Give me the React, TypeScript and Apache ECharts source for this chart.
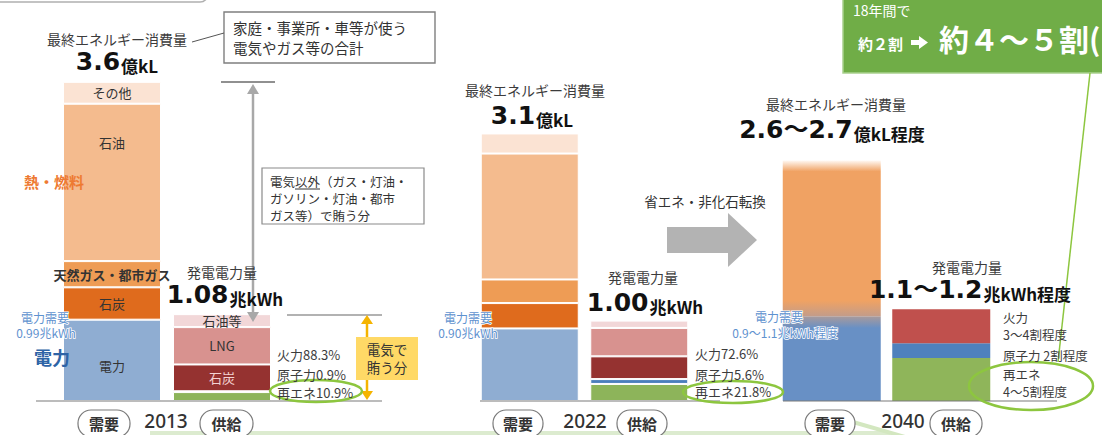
import React, { useEffect, useRef } from 'react';
import * as echarts from 'echarts';

const FONT = "'Noto Sans CJK JP', 'Noto Sans', sans-serif";
const NUM_FONT = "'DejaVu Sans', 'Noto Sans CJK JP', sans-serif";
const YEAR_FONT = "'Noto Sans', 'Open Sans', sans-serif";

// ---- data ----
const years = ['2013', '2022', '2040'];
const sides = ['需要', '供給'];

// demand (億kL equivalent), bottom -> top
const demandNames = ['電力', '石炭', '天然ガス・都市ガス', '石油', 'その他'];
const demand2013 = [0.93, 0.37, 0.3, 1.8, 0.25];
const demand2022 = [0.83, 0.29, 0.27, 1.44, 0.23];
const demandNames2040 = ['電力', '熱・燃料'];
const demand2040 = [0.97, 1.78];

// supply (兆kWh), bottom -> top
const supplyNames = ['再エネ', '原子力', '石炭', 'LNG', '石油等'];
const supply2013 = [0.11, 0.01, 0.33, 0.46, 0.16];
const supply2022 = [0.21, 0.06, 0.28, 0.35, 0.09];
const supplyNames2040 = ['再エネ', '原子力', '火力'];
const supply2040 = [0.53, 0.18, 0.42];

const totalsDemand = ['3.6', '3.1', '2.6〜2.7'];
const totalsDemandUnit = ['億kL', '億kL', '億kL程度'];
const totalsSupply = ['1.08', '1.00', '1.1〜1.2'];
const totalsSupplyUnit = ['兆kWh', '兆kWh', '兆kWh程度'];
const powerDemand = ['0.99兆kWh', '0.90兆kWh', '0.9〜1.1兆kWh程度'];
const mix2013 = ['火力88.3%', '原子力0.9%', '再エネ10.9%'];
const mix2022 = ['火力72.6%', '原子力5.6%', '再エネ21.8%'];
const mix2040 = ['火力', '3〜4割程度', '原子力 2割程度', '再エネ', '4〜5割程度'];

// ---- styles ----
const demandColors = ['#8FADD2', '#DF6B1D', '#EE9C55', '#F4BB8E', '#FBE3D3'];
const supplyColors = ['#8DB45A', '#4A7EBB', '#953230', '#D8928F', '#F2D7D8'];
const supplyColors2040 = ['#8FB55A', '#4F81BD', '#C0504D'];

function txt(text: string, x: number, y: number, o: any = {}) {
  return {
    type: 'text', z: 50, x, y,
    style: {
      text, fill: o.color ?? '#3c3c3c', fontSize: o.size ?? 13, fontFamily: o.family ?? FONT,
      fontWeight: o.weight ?? 'normal', align: o.align ?? 'center', verticalAlign: 'middle',
      stroke: o.stroke, lineWidth: o.strokeWidth ?? 0,
    },
  };
}
function big(num: string, unit: string, x: number, yBottom: number) {
  return {
    type: 'text', z: 50, x, y: yBottom,
    style: {
      text: `{n|${num}}{u|${unit}}`, align: 'center', verticalAlign: 'bottom',
      rich: {
        n: { fontFamily: NUM_FONT, fontWeight: 'bold', fontSize: 25, fill: '#111', color: '#111', verticalAlign: 'bottom', lineHeight: 24 },
        u: { fontFamily: FONT, fontWeight: 'bold', fontSize: 17, fill: '#111', color: '#111', verticalAlign: 'bottom', lineHeight: 24, padding: [0, 0, 0, 1] },
      },
    },
  };
}
function line(x1: number, y1: number, x2: number, y2: number, stroke = '#777', lineWidth = 1.2, z = 40) {
  return { type: 'line', z, shape: { x1, y1, x2, y2 }, style: { stroke, lineWidth } };
}
function poly(points: number[][], fill: string, z = 40) {
  return { type: 'polygon', z, shape: { points }, style: { fill } };
}
function box(x: number, y: number, w: number, h: number, fill: string, stroke?: string, r = 0, lw = 1.2, z = 30) {
  return { type: 'rect', z, shape: { x, y, width: w, height: h, r }, style: { fill, stroke, lineWidth: stroke ? lw : 0 } };
}
function ellipse(cx: number, cy: number, rx: number, ry: number) {
  return { type: 'ellipse', z: 45, shape: { cx, cy, rx, ry }, style: { fill: 'none', stroke: '#8DC63F', lineWidth: 2.5 } };
}
function pill(text: string, x: number, w: number) {
  return [box(x, 410, w, 27, '#fff', '#7a7a7a', 13, 1.2, 30), txt(text, x + w / 2, 423, { size: 15, weight: 'bold', color: '#333' })];
}
const blueText = { size: 12, color: '#5F92CF', stroke: '#fff', strokeWidth: 1.5 };

function buildSeries() {
  const series: any[] = [];
  const mk = (name: string, gi: number, supply: boolean, value: number, color: any, label: any, border = true) => ({
    type: 'bar', name, xAxisIndex: gi, yAxisIndex: gi * 2 + (supply ? 1 : 0), stack: (supply ? 's' : 'd') + gi,
    barWidth: 98, barGap: '-100%', z: 2,
    data: supply ? ['-', value] : [value, '-'],
    itemStyle: { color, borderColor: '#fff', borderWidth: border ? 1 : 0 },
    label: label
      ? { show: true, position: 'inside', formatter: label.text ?? name, color: label.color ?? '#333', fontSize: 13, fontFamily: FONT, offset: label.offset ?? [0, 0], fontWeight: label.weight ?? 'normal' }
      : { show: false },
  });
  const demandLabels2013: any[] = [{ offset: [0, 5] }, {}, { weight: 'bold' }, { offset: [0, -40] }, {}];
  demandNames.forEach((n, i) => series.push(mk(n, 0, false, demand2013[i], demandColors[i], demandLabels2013[i])));
  const supplyLabels2013: any[] = [null, null, { color: '#F4D2D2' }, {}, {}];
  supplyNames.forEach((n, i) => series.push(mk(n, 0, true, supply2013[i], supplyColors[i], supplyLabels2013[i])));
  demandNames.forEach((n, i) => series.push(mk(n, 1, false, demand2022[i], demandColors[i], null)));
  supplyNames.forEach((n, i) => series.push(mk(n, 1, true, supply2022[i], supplyColors[i], null)));
  const blueGrad = new echarts.graphic.LinearGradient(0, 0, 0, 1, [
    { offset: 0, color: '#A99A9B' }, { offset: 0.14, color: '#6890C5' }, { offset: 1, color: '#6890C5' },
  ]);
  const orangeGrad = new echarts.graphic.LinearGradient(0, 0, 0, 1, [
    { offset: 0, color: '#FFF8F2' }, { offset: 0.07, color: '#F0A263' }, { offset: 0.9, color: '#F0A263' }, { offset: 1, color: '#C39C8A' },
  ]);
  series.push(mk(demandNames2040[0], 2, false, demand2040[0], blueGrad, null, false));
  series.push(mk(demandNames2040[1], 2, false, demand2040[1], orangeGrad, null, false));
  supplyNames2040.forEach((n, i) => series.push(mk(n, 2, true, supply2040[i], supplyColors2040[i], null, false)));
  return series;
}

function buildGraphics() {
  const g: any[] = [];
  // top-left frame edge
  g.push({ type: 'rect', z: 30, shape: { x: -20, y: -40, width: 228, height: 42, r: 8 }, style: { fill: 'none', stroke: '#B0B0B0', lineWidth: 1.5 } });
  // bottom light green band + pointer
  g.push(box(150, 431, 740, 10, '#DCEBCF', undefined, 0, 0, 5));
  g.push(line(846, 420, 905, 437, '#D3E7C0', 4, 5));
  // ---- 2013 ----
  g.push(txt('最終エネルギー消費量', 117, 39, { size: 14 }));
  g.push(line(192, 42, 224, 33, '#555', 1));
  g.push(box(224, 12, 211, 51, '#fff', '#7f7f7f', 0, 1.4));
  g.push(txt('家庭・事業所・車等が使う', 233, 27, { size: 14.5, align: 'left', color: '#333' }));
  g.push(txt('電気やガス等の合計', 233, 47, { size: 14.5, align: 'left', color: '#333' }));
  g.push(big(totalsDemand[0], totalsDemandUnit[0], 117, 74));
  g.push(line(221, 82, 275, 82, '#222', 1.2));
  g.push(line(253, 92, 253, 314, '#A8A8A8', 2.5, 35));
  g.push(poly([[247, 94], [259, 94], [253, 84]], '#A8A8A8', 35));
  g.push(poly([[247, 312], [259, 312], [253, 322]], '#A8A8A8', 35));
  g.push(box(262, 168, 162, 56, '#fff', '#8a8a8a', 0, 1.2));
  g.push(txt('電気以外（ガス・灯油・', 270, 181, { size: 12.5, align: 'left', color: '#333' }));
  g.push(txt('ガソリン・灯油・都市', 270, 198, { size: 12.5, align: 'left', color: '#333' }));
  g.push(txt('ガス等）で賄う分', 270, 215, { size: 12.5, align: 'left', color: '#333' }));
  g.push(line(295, 189, 320, 189, '#333', 1));
  g.push(txt('熱・燃料', 54, 181, { size: 15, weight: 'bold', color: '#EE7A32' }));
  g.push(txt('電力需要', 45, 317, blueText));
  g.push(txt(powerDemand[0], 46, 332, blueText));
  g.push(txt('電力', 52, 357, { size: 18, weight: 'bold', color: '#2E64A6' }));
  g.push(txt('発電電力量', 222, 272, { size: 14 }));
  g.push(big(totalsSupply[0], totalsSupplyUnit[0], 225, 307));
  g.push(txt(mix2013[0], 277, 354, { size: 13, align: 'left' }));
  g.push(txt(mix2013[1], 277, 374, { size: 13, align: 'left' }));
  g.push(txt(mix2013[2], 277, 392, { size: 13, align: 'left' }));
  g.push(ellipse(316, 391, 46, 11));
  g.push(line(287, 315, 382, 315, '#666', 1.2));
  g.push(line(36, 401, 382, 401, '#7a7a7a', 1.2, 20));
  g.push(line(367, 322, 367, 392, '#F5B400', 2.5));
  g.push(poly([[361, 324], [373, 324], [367, 315]], '#F5B400'));
  g.push(poly([[361, 391], [373, 391], [367, 400]], '#F5B400'));
  g.push(box(356, 337, 62, 43, '#FFD966', undefined, 0, 0, 42));
  g.push(txt('電気で', 387, 349, { size: 13.5, color: '#333' }));
  g.push(txt('賄う分', 387, 367, { size: 13.5, color: '#333' }));
  g.push(...pill(sides[0], 78, 52));
  g.push(txt(years[0], 166, 421, { size: 19, weight: 500, color: '#333', family: YEAR_FONT }));
  g.push(...pill(sides[1], 200, 53));
  // ---- 2022 ----
  g.push(txt('最終エネルギー消費量', 535, 90, { size: 14 }));
  g.push(big(totalsDemand[1], totalsDemandUnit[1], 532, 128));
  g.push(txt('省エネ・非化石転換', 705, 201, { size: 13.5, color: '#333' }));
  g.push(poly([[667, 227], [728, 227], [728, 213], [757, 240], [728, 267], [728, 253], [667, 253]], '#B3B3B3'));
  g.push(txt('電力需要', 468, 317, blueText));
  g.push(txt(powerDemand[1], 468, 332, blueText));
  g.push(txt('発電電力量', 643, 277, { size: 14 }));
  g.push(big(totalsSupply[1], totalsSupplyUnit[1], 645, 315));
  g.push(txt(mix2022[0], 695, 353, { size: 13, align: 'left' }));
  g.push(txt(mix2022[1], 695, 374, { size: 13, align: 'left' }));
  g.push(txt(mix2022[2], 695, 391, { size: 13, align: 'left' }));
  g.push(ellipse(733, 392, 50, 11));
  g.push(line(480, 401, 720, 401, '#7a7a7a', 1.2, 20));
  g.push(...pill(sides[0], 493, 50));
  g.push(txt(years[1], 585, 421, { size: 19, weight: 500, color: '#333', family: YEAR_FONT }));
  g.push(...pill(sides[1], 617, 50));
  // ---- 2040 ----
  g.push(txt('最終エネルギー消費量', 836, 104, { size: 14 }));
  g.push(big(totalsDemand[2], totalsDemandUnit[2], 832, 142));
  g.push(txt('電力需要', 779, 316, blueText));
  g.push(txt(powerDemand[2], 785, 332, blueText));
  g.push(txt('発電電力量', 967, 267, { size: 14 }));
  g.push(big(totalsSupply[2], totalsSupplyUnit[2], 970, 302));
  g.push(txt(mix2040[0], 1003, 317, { size: 12.5, align: 'left' }));
  g.push(txt(mix2040[1], 1003, 334, { size: 12.5, align: 'left' }));
  g.push(txt(mix2040[2], 1003, 355, { size: 12.5, align: 'left' }));
  g.push(txt(mix2040[3], 1003, 374, { size: 12.5, align: 'left' }));
  g.push(txt(mix2040[4], 1003, 391, { size: 12.5, align: 'left' }));
  g.push(line(783, 401, 1057, 401, '#7a7a7a', 1.2, 20));
  g.push(ellipse(1031, 386, 62, 24));
  g.push(line(1090, 73, 1058, 362, '#8DC63F', 1.5));
  g.push(...pill(sides[0], 805, 50));
  g.push(txt(years[2], 903, 421, { size: 19, weight: 500, color: '#333', family: YEAR_FONT }));
  g.push(...pill(sides[1], 930, 52));
  // top-right green callout
  g.push(box(843, -5, 270, 78, '#70AD47', '#A9D18E', 0, 1.5, 30));
  g.push(txt('18年間で', 853, 10, { size: 14, align: 'left', color: '#fff' }));
  g.push(txt('約２割', 858, 43, { size: 15, weight: 'bold', align: 'left', color: '#fff' }));
  g.push(poly([[911, 40], [919, 40], [919, 36], [928, 42.5], [919, 49], [919, 45], [911, 45]], '#fff', 50));
  g.push(txt('約４〜５割(', 939, 38, { size: 30, weight: 'bold', align: 'left', color: '#fff' }));
  return g;
}

export default function App() {
  const ref = useRef<HTMLDivElement>(null);
  useEffect(() => {
    const chart = echarts.init(ref.current!, null, { renderer: 'svg' });
    const grids = [
      { left: 57, width: 220 },
      { left: 475, width: 219 },
      { left: 777, width: 219 },
    ].map((g) => ({ ...g, top: 60, height: 341 }));
    chart.setOption({
      animation: false,
      backgroundColor: '#fff',
      grid: grids,
      xAxis: grids.map((_, i) => ({ type: 'category', gridIndex: i, data: sides, show: false })),
      yAxis: grids.flatMap((_, i) => [
        { type: 'value', gridIndex: i, min: 0, max: 3.9, show: false, splitLine: { show: false } },
        { type: 'value', gridIndex: i, min: 0, max: 4.2, show: false, splitLine: { show: false } },
      ]),
      series: buildSeries(),
      graphic: { elements: buildGraphics() },
    });
    return () => chart.dispose();
  }, []);
  return <div ref={ref} style={{ position: 'absolute', left: 0, top: 0, width: 1102, height: 435, background: '#fff' }} />;
}
